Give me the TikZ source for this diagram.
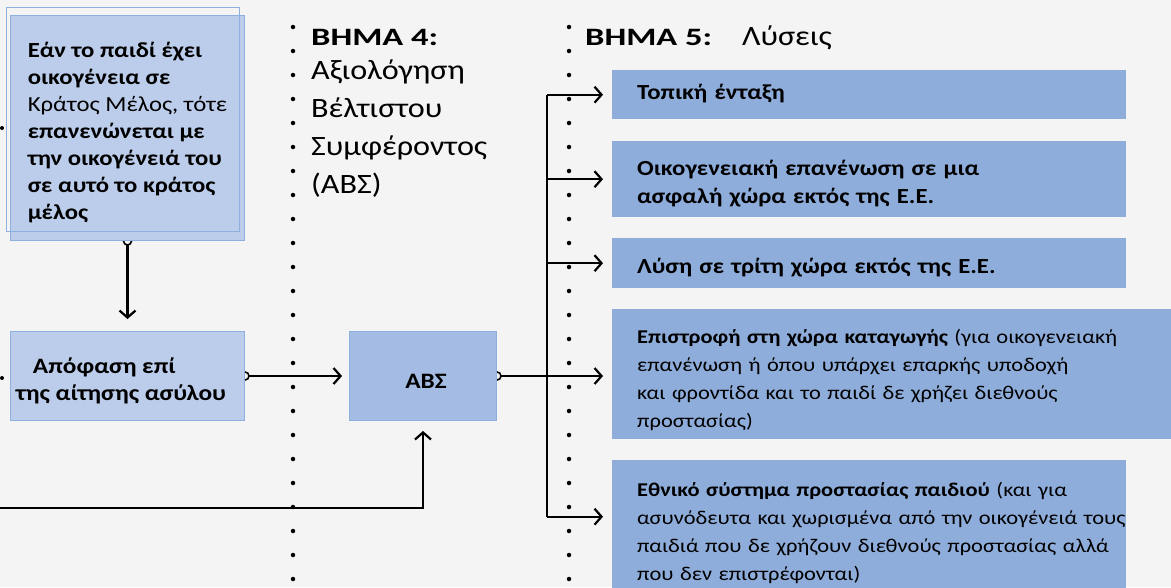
\documentclass[tikz,border=0pt]{standalone}
\usepackage{fontspec}
\setmainfont[FakeStretch=1.15]{Carlito}
\usetikzlibrary{arrows.meta}
\pgfdeclarelayer{bgl}
\pgfdeclarelayer{edgel}
\pgfsetlayers{bgl,edgel,main}
\definecolor{bgc}{HTML}{F4F4F4}
\definecolor{lightbox}{HTML}{BCCDEB}
\definecolor{lightedge}{HTML}{8EB0DE}
\definecolor{midbox}{HTML}{A4BCE3}
\definecolor{darkbox}{HTML}{8EADDB}
\newcommand{\shiftdown}[2]{\raisebox{-#1}[\height][\depth]{\begin{tabular}{@{}l@{}}#2\end{tabular}}}
\begin{document}
\begin{tikzpicture}[x=1pt,y=-1pt,
  lbox/.style={draw=lightedge, fill=lightbox, line width=1pt, inner sep=0pt, anchor=north west, align=left, font=\fontsize{21.5}{27}\selectfont},
  absbox/.style={draw=lightedge, fill=midbox, line width=1pt, inner sep=0pt, anchor=north west, font=\fontsize{22}{27}\selectfont\bfseries},
  rbox/.style={fill=darkbox, draw=none, inner xsep=25pt, inner ysep=0pt, anchor=north west, align=left, text width=464pt, font=\fontsize{21.5}{28}\selectfont},
  rboxsmall/.style={rbox, font=\fontsize{19.5}{28}\selectfont},
  conn/.style={line width=2.2pt, black},
  arr/.style={conn, -{Straight Barb[length=7pt,width=16pt,line width=2.2pt]}},
  dotline/.style={line width=4.5pt, line cap=round, dash pattern=on 0pt off 24pt},
  startc/.style={draw=black, fill=bgc, line width=1.6pt},
  head/.style={anchor=base west, inner sep=0pt, font=\fontsize{25}{28}\selectfont},
]
\useasboundingbox (0,0) rectangle (1171,587);
\begin{pgfonlayer}{bgl}
  \fill[bgc] (0,0) rectangle (1171,587);
  \draw[dotline] (293,27) -- (293,600);
  \draw[dotline] (569,27) -- (569,600);
\end{pgfonlayer}

% left column
\node[lbox, minimum width=234pt, minimum height=225pt] (fam) at (10,15)
  {\shiftdown{5pt}{\textbf{Εάν το παιδί έχει}\\ \textbf{οικογένεια σε}\\ Κράτος Μέλος, τότε\\ \textbf{επανενώνεται με}\\ \textbf{την οικογένειά του}\\ \textbf{σε αυτό το κράτος}\\ \textbf{μέλος}}};
\draw[lightedge, line width=0.8pt] (6,7) rectangle (239,231);
\node[lbox, minimum width=234pt, minimum height=89pt, font=\fontsize{22}{27}\selectfont\bfseries] (dec) at (10,331)
  {\hspace*{-13pt}\shiftdown{6pt}{\hspace*{17pt}Απόφαση επί\\ της αίτησης ασύλου}};

% step 4
\node[head] (s4) at (311,45) {\bfseries\scalebox{1.2}[1]{ΒΗΜΑ 4:}};
\node[anchor=north west, inner sep=0pt, align=left, font=\fontsize{28}{38}\selectfont] (s4t) at (311,60)
  {Αξιολόγηση\\ Βέλτιστου\\ Συμφέροντος\\ (ΑΒΣ)};
\node[absbox, minimum width=147pt, minimum height=89pt] (abs) at (349,331) {\raisebox{-5pt}[\height][\depth]{\hspace*{6pt}ΑΒΣ}};

% step 5
\node[head] (s5) at (585,45) {\bfseries\scalebox{1.2}[1]{ΒΗΜΑ 5:}};
\node[head, font=\fontsize{28}{28}\selectfont] (s5t) at (742,45) {Λύσεις};

\node[rbox, minimum height=49pt] (b1) at (612,70) {\shiftdown{-1pt}{\textbf{Τοπική ένταξη}}};
\node[rbox, minimum height=76pt] (b2) at (612,141) {\shiftdown{5pt}{\textbf{Οικογενειακή επανένωση σε μια}\\ \textbf{ασφαλή χώρα εκτός της Ε.Ε.}}};
\node[rbox, minimum height=50pt] (b3) at (612,238) {\shiftdown{5pt}{\textbf{Λύση σε τρίτη χώρα εκτός της Ε.Ε.}}};
\node[rboxsmall, text width=570pt, minimum height=130pt] (b4) at (612,309)
  {\shiftdown{6pt}{\textbf{Επιστροφή στη χώρα καταγωγής} (για οικογενειακή\\ επανένωση ή όπου υπάρχει επαρκής υποδοχή\\ και φροντίδα και το παιδί δε χρήζει διεθνούς\\ προστασίας)}};
\node[rboxsmall, minimum height=145pt] (b5) at (612,460)
  {\shiftdown{0pt}{\textbf{Εθνικό σύστημα προστασίας παιδιού} (και για\\ ασυνόδευτα και χωρισμένα από την οικογένειά τους\\ παιδιά που δε χρήζουν διεθνούς προστασίας αλλά\\ που δεν επιστρέφονται)}};

% connectors
\coordinate (trunk) at (547,0);
\coordinate (inL) at (-5,508);
\coordinate (b5in) at ([yshift=16pt]b5.west);
\begin{pgfonlayer}{edgel}
  \draw[arr, shorten >=12pt] (fam.south) -- (dec.north);
  \draw[startc] (fam.south) circle (4);
  \draw[arr, shorten >=7pt] (dec.east) -- (dec.east -| abs.west);
  \draw[startc] (dec.east) circle (4);
  \draw[arr, shorten >=10pt] (inL) -| (abs.south);
  \draw[arr, shorten >=9pt] (abs.east) -- (abs.east -| b4.west);
  \draw[startc] (abs.east) circle (4);
  \draw[conn] (trunk |- b1.west) -- (trunk |- b5in);
  \draw[arr, shorten >=9pt] (trunk |- b1.west) -- (b1.west);
  \draw[arr, shorten >=9pt] (trunk |- b2.west) -- (b2.west);
  \draw[arr, shorten >=9pt] (trunk |- b3.west) -- (b3.west);
  \draw[arr, shorten >=9pt] (trunk |- b5in) -- (b5in);
  \fill[black] (2,128) circle (2);
  \fill[black] (2,378) circle (2);
\end{pgfonlayer}
\end{tikzpicture}
\end{document}
